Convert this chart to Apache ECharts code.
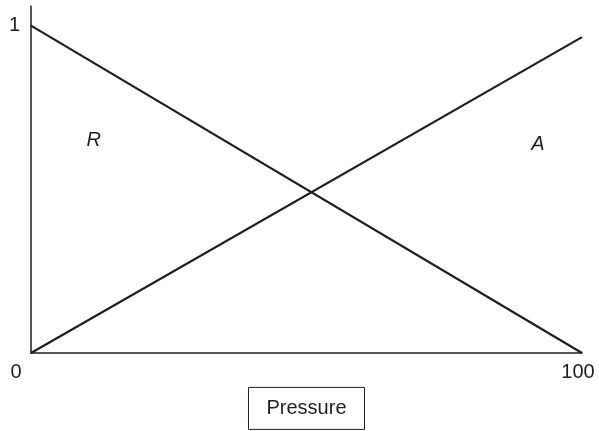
<!DOCTYPE html>
<html>
<head>
<meta charset="utf-8">
<script src="https://cdn.jsdelivr.net/npm/echarts@6/dist/echarts.min.js"></script>
<style>
  html, body { margin: 0; padding: 0; background: #fff; }
  #chart { width: 599px; height: 431px; }
</style>
</head>
<body>
<div id="chart"></div>
<script>
// data
const pressure = [0, 100];
const repulsion = [1, 0];
const attraction = [0, 0.965];
const xTickLabels = [0, 100];
const yTickLabels = [1];
const curveNames = ["R", "A"];
const curveLabelPos = [[11.4, 0.648], [92, 0.636]];

const ink = "#1e1e1e";
const fs = 20;
const chart = echarts.init(document.getElementById("chart"));

function curveLabel(i) {
  return {
    symbol: "circle",
    symbolSize: 1,
    itemStyle: { color: "rgba(0,0,0,0)" },
    data: [{ coord: curveLabelPos[i], value: curveNames[i] }],
    label: {
      show: true,
      position: "inside",
      formatter: curveNames[i],
      fontSize: fs,
      fontStyle: "italic",
      color: ink,
    },
  };
}

const option = {
  animation: false,
  textStyle: { fontFamily: "Liberation Sans, Arial, sans-serif", color: ink },
  grid: { left: 31, right: 17, top: 6, bottom: 78, outerBoundsMode: "none" },
  xAxis: {
    type: "value",
    min: 0,
    max: 100,
    interval: 100,
    name: "Pressure",
    nameLocation: "middle",
    nameGap: 32,
    nameTextStyle: {
      fontSize: fs,
      color: ink,
      borderColor: ink,
      borderWidth: 1,
      padding: [11, 18, 11, 18],
    },
    axisLine: { lineStyle: { color: ink, width: 1.5 } },
    axisTick: { show: false },
    splitLine: { show: false },
    axisLabel: {
      margin: 9,
      fontSize: fs,
      color: ink,
      formatter: (v) => {
        if (v === xTickLabels[0]) return "{l|" + v + "}";
        if (v === xTickLabels[1]) return "{r|" + v + "}";
        return "";
      },
      rich: {
        l: { fontSize: fs, color: ink, padding: [0, 30, 0, 0] },
        r: { fontSize: fs, color: ink, padding: [0, 8, 0, 0] },
      },
    },
  },
  yAxis: {
    type: "value",
    min: 0,
    max: 1.06,
    interval: 1,
    axisLine: { show: true, lineStyle: { color: ink, width: 1.5 } },
    axisTick: { show: false },
    splitLine: { show: false },
    axisLabel: {
      margin: 11,
      fontSize: fs,
      color: ink,
      formatter: (v) => (yTickLabels.includes(v) ? String(v) : ""),
    },
  },
  series: [
    {
      name: curveNames[0],
      type: "line",
      data: pressure.map((p, i) => [p, repulsion[i]]),
      symbol: "none",
      lineStyle: { color: ink, width: 2.2 },
      markPoint: curveLabel(0),
    },
    {
      name: curveNames[1],
      type: "line",
      data: pressure.map((p, i) => [p, attraction[i]]),
      symbol: "none",
      lineStyle: { color: ink, width: 2.2 },
      markPoint: curveLabel(1),
    },
  ],
};

chart.setOption(option);
</script>
</body>
</html>
